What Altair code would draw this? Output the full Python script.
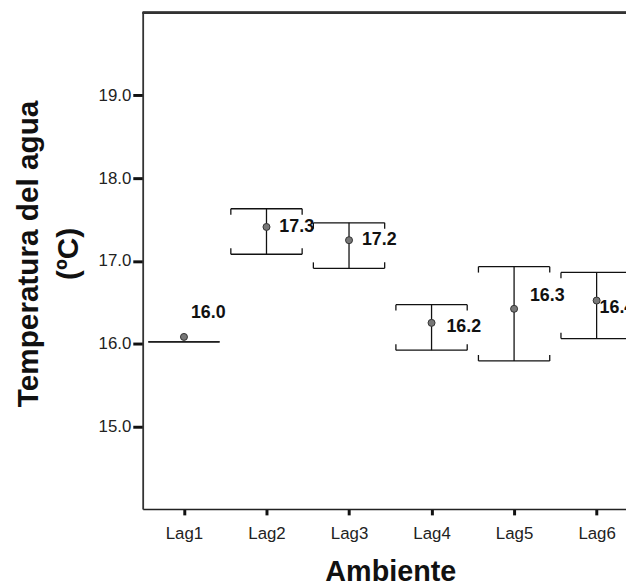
import altair as alt
import pandas as pd

categories = ["Lag1", "Lag2", "Lag3", "Lag4", "Lag5", "Lag6"]
means = [16.08, 17.41, 17.25, 16.25, 16.42, 16.52]
lows = [16.02, 17.08, 16.91, 15.92, 15.79, 16.06]
highs = [16.02, 17.63, 17.46, 16.47, 16.93, 16.86]
label_texts = ["16.0", "17.3", "17.2", "16.2", "16.3", "16.4"]
label_y = [16.37, 17.41, 17.25, 16.20, 16.57, 16.43]
label_dx = [7, 13, 13, 15, 16, 3]

df = pd.DataFrame({
    "cat": categories, "mean": means, "lo": lows, "hi": highs,
    "label": label_texts, "ly": label_y, "dx": label_dx,
})

FONT = "Liberation Sans"
CAP = 36

xenc = alt.X("cat:N", sort=categories,
             scale=alt.Scale(type="point", padding=0.5, range=[0, 500]),
             axis=alt.Axis(title="Ambiente", labelAngle=0, titleX=250, titleY=72,
                           titleBaseline="alphabetic", titleFontSize=29,
                           titleFontWeight="bold", titleFont=FONT, titleColor="#111",
                           labelFont=FONT, labelFontSize=17, labelColor="#222",
                           labelPadding=11, tickSize=6, tickWidth=3, tickColor="#111",
                           domainColor="#222", domainWidth=1.5, grid=False))
yscale = alt.Scale(domain=[14, 20], nice=False, zero=False)
yenc = alt.Y("lo:Q", scale=yscale,
             axis=alt.Axis(title=["Temperatura del agua", "(ºC)"], values=[15, 16, 17, 18, 19],
                           format=".1f", titleX=-115, titleY=243, titleAngle=-90,
                           titleBaseline="middle", titleLineHeight=40,
                           titleFontSize=30, titleFontWeight="bold", titleFont=FONT,
                           titleColor="#111", labelFont=FONT, labelFontSize=17,
                           labelColor="#222", labelPadding=2, tickSize=10, tickWidth=3,
                           tickColor="#111", domainColor="#333", domainWidth=1.8,
                           grid=False))

base = alt.Chart(df)

stem = base.mark_rule(color="#111", strokeWidth=1.3).encode(x=xenc, y=yenc, y2="hi:Q")

cap_hi = base.mark_rule(color="#111", strokeWidth=1.3, xOffset=-CAP, x2Offset=CAP).encode(
    x=alt.X("cat:N", sort=categories), x2="cat:N", y=alt.Y("hi:Q"))
cap_lo = base.mark_rule(color="#111", strokeWidth=1.3, xOffset=-CAP, x2Offset=CAP).encode(
    x=alt.X("cat:N", sort=categories), x2="cat:N", y=alt.Y("lo:Q"))

br = base.transform_filter("datum.lo != datum.hi")
brackets = []
for off in (-CAP, CAP):
    brackets.append(br.mark_rule(color="#111", strokeWidth=1.3, xOffset=off, y2Offset=6).encode(
        x=alt.X("cat:N", sort=categories), y=alt.Y("hi:Q"), y2="hi:Q"))
    brackets.append(br.mark_rule(color="#111", strokeWidth=1.3, xOffset=off, y2Offset=-6).encode(
        x=alt.X("cat:N", sort=categories), y=alt.Y("lo:Q"), y2="lo:Q"))

points = base.mark_point(shape="circle", filled=True, size=50, color="#777",
                         stroke="#333", strokeWidth=1, opacity=1).encode(
    x=alt.X("cat:N", sort=categories), y=alt.Y("mean:Q"))

labels = []
for d in sorted(set(label_dx)):
    labels.append(base.transform_filter(f"datum.dx == {d}").mark_text(
        align="left", baseline="middle", dx=d, font=FONT, fontSize=18,
        fontWeight="bold", color="#111").encode(
        x=alt.X("cat:N", sort=categories), y=alt.Y("ly:Q"), text="label:N"))

topline = alt.Chart(df).mark_rule(color="#333", strokeWidth=1.8).encode(
    x=alt.value(0), x2=alt.value(488), y=alt.value(0))

chart = alt.layer(stem, cap_hi, cap_lo, *brackets, points, *labels, topline).properties(
    width=488, height=501,
    autosize=alt.AutoSizeParams(type="none"),
    padding={"left": 136, "top": 2, "right": 0, "bottom": 75},
).configure_view(stroke=None).configure(background="white")

chart.save("out.html", embed_options={"renderer": "svg", "actions": False})
